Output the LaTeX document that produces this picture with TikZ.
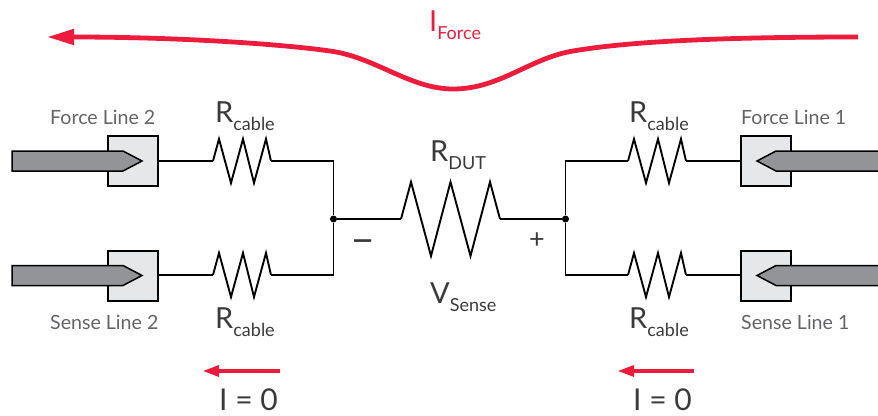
\documentclass[tikz,border=0pt]{standalone}
\usepackage{fontspec}
\setmainfont{Lato}
\usetikzlibrary{arrows.meta}
\definecolor{keyred}{HTML}{EE1C3C}
\definecolor{probegray}{HTML}{929497}
\definecolor{blockgray}{HTML}{E6E7E8}
\definecolor{inkgray}{HTML}{3A3A3C}
\definecolor{capgray}{HTML}{636466}
\newcommand{\symb}[2]{{\fontsize{29}{29}\selectfont #1}{\fontsize{18}{18}\selectfont\raisebox{-8pt}{#2}}}
\tikzset{
	wire/.style={black,line width=1.9pt},
	block/.style={draw=black,fill=blockgray,line width=1.5pt,minimum size=50pt,inner sep=0pt},
	probe/.style={draw=black,fill=probegray,line width=1.5pt,line join=miter},
	dot/.style={circle,fill=black,inner sep=0pt,minimum size=7pt},
	caption/.style={text=capgray,font=\fontsize{19.6}{20}\selectfont,inner sep=0pt,anchor=base west},
	sym/.style={text=inkgray,inner sep=0pt,anchor=base west},
	flow/.style={keyred,line width=4.8pt,-{Stealth[length=27pt,width=15pt,inset=0pt]}},
	nullflow/.style={keyred,line width=4.8pt,-{Stealth[length=17pt,width=10.5pt,inset=0pt]}},
	pics/rcable/.style={code={
		\coordinate (-in) at (0,0);
		\coordinate (-out) at (58,0);
		\draw[wire,line join=miter] (-in) -- (6,-22) -- (18,22) -- (30,-22) -- (41,22) -- (53,-22) -- (-out);
	}},
}
\begin{document}
\begin{tikzpicture}[x=1pt,y=-1pt]
	\useasboundingbox (0,0) rectangle (878,415);

	% contact blocks
	\node[block] (blockFL) at (133,161) {};
	\node[block] (blockSL) at (133,276) {};
	\node[block] (blockFR) at (766,161) {};
	\node[block] (blockSR) at (766,276) {};

	% probes
	\draw[probe] (12,151) -- (123,151) -- (142,161) -- (123,171) -- (12,171) --cycle;
	\draw[probe] (12,265.5) -- (123,265.5) -- (142,275.5) -- (123,285.5) -- (12,285.5) --cycle;
	\draw[probe] (878,151) -- (776,151) -- (757,161) -- (776,171) -- (878,171);
	\draw[probe] (878,265.5) -- (776,265.5) -- (757,275.5) -- (776,285.5) -- (878,285.5);

	% resistors
	\pic (rFL) at (213,161) {rcable};
	\pic (rSL) at (213,275) {rcable};
	\pic (rFR) at (628,161) {rcable};
	\pic (rSR) at (628,275) {rcable};
	\coordinate (rDUTin) at (401,219);
	\coordinate (rDUTout) at (500,219);
	\draw[wire,line join=miter] (rDUTin) -- (411,182) -- (431,256) -- (450.5,182) -- (470.5,256) -- (490,182) -- (rDUTout);

	% junctions
	\node[dot] (nodeL) at (333.5,219) {};
	\node[dot] (nodeR) at (565.5,219) {};

	\draw[wire] (blockFL.east |- rFL-in) -- (rFL-in);
	\draw[wire] (blockSL.east |- rSL-in) -- (rSL-in);
	\draw[wire] (rFL-out) -| (nodeL);
	\draw[wire] (rSL-out) -| (nodeL);
	\draw[wire] (nodeL) -- (rDUTin);
	\draw[wire] (rDUTout) -- (nodeR);
	\draw[wire] (nodeR) |- (rFR-in);
	\draw[wire] (nodeR) |- (rSR-in);
	\draw[wire] (rFR-out) -- (blockFR.west |- rFR-out);
	\draw[wire] (rSR-out) -- (blockSR.west |- rSR-out);

	% labels
	\node[caption] (capFL) at (50,124) {Force Line 2};
	\node[caption] (capSL) at (50,329) {Sense Line 2};
	\node[caption] (capFR) at (741,124) {Force Line 1};
	\node[caption] (capSR) at (741,329) {Sense Line 1};
	\node[sym] (symFL) at (215,122) {\symb{R}{cable}};
	\node[sym] (symSL) at (215,328) {\symb{R}{cable}};
	\node[sym] (symFR) at (629,122) {\symb{R}{cable}};
	\node[sym] (symSR) at (629,328) {\symb{R}{cable}};
	\node[sym] (symDUT) at (430,161) {\symb{R}{DUT}};
	\node[sym] (symV) at (430,303) {\symb{V}{Sense}};
	\node[sym,font=\fontsize{40}{40}\selectfont] (symMinus) at (351,254) {−};
	\node[sym,font=\fontsize{27}{27}\selectfont] (symPlus) at (529,248) {+};

	% currents
	\node[sym,text=keyred] (symForce) at (429,31) {\symb{I}{Force}};
	\coordinate (forceA) at (858,37);
	\coordinate (forceB) at (47,37);
	\draw[flow] (forceA) .. controls (700,37) and (620,43) .. (573,51) .. controls (530,58) and (500,89) .. (453,89) .. controls (410,89) and (375,57) .. (330,51) .. controls (280,44) and (180,37) .. (forceB);

	\coordinate (zeroLa) at (280,371);
	\coordinate (zeroLb) at (202,371);
	\coordinate (zeroRa) at (694,371);
	\coordinate (zeroRb) at (617,371);
	\draw[nullflow] (zeroLa) -- (zeroLb);
	\draw[nullflow] (zeroRa) -- (zeroRb);
	\node[sym,font=\fontsize{30}{30}\selectfont] (zeroL) at (219,410) {I = 0};
	\node[sym,font=\fontsize{30}{30}\selectfont] (zeroR) at (633,410) {I = 0};
\end{tikzpicture}
\end{document}
